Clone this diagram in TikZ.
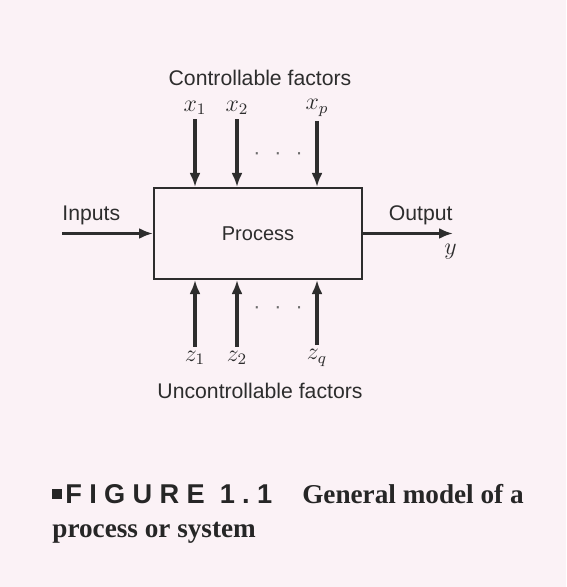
\documentclass[tikz,border=0pt]{standalone}
\usepackage{fontspec}
\setmainfont{Liberation Sans}
\newfontfamily\capserif{Liberation Serif}
\newfontfamily\capsans[LetterSpace=27]{Liberation Sans}
\usepackage{tikz}
\usetikzlibrary{positioning}
\usetikzlibrary{shapes,arrows,arrows.meta}
\definecolor{paper}{RGB}{251,242,246}
\definecolor{ink}{RGB}{45,45,45}
\tikzstyle{block} = [rectangle, draw=ink, line width=1pt, text=ink,
    minimum width=104pt, minimum height=45.5pt, font=\fontsize{10}{12}\selectfont]
\tikzstyle{label} = [text=ink, inner sep=0pt, font=\fontsize{10.6}{12}\selectfont]
\tikzstyle{var} = [text=ink, inner sep=2pt, font=\fontsize{12}{14}\selectfont]
\tikzstyle{caption} = [text=black!85, inner sep=0pt, align=left,
    font=\fontsize{13.6}{17}\selectfont]
\tikzstyle{line} = [draw=ink, line width=1.6pt, -{Latex[length=7pt,width=5.5pt]}]

\begin{document}
\begin{tikzpicture}[x=0.5pt, y=-0.5pt]
        \fill [paper] (0,0) rectangle (566,587);
        \useasboundingbox (0,0) rectangle (566,587);
        \node [block] (proc) at (258,233.5) {Process};
        % controllable factors
        \node [label] (ctrl) at (260,78) {Controllable factors};
        \node [var] (x1) at (195,108) {$x_1$};
        \node [var] (x2) at (237,108) {$x_2$};
        \node [var] (xp) at (317,108) {$x_p$};
        \node [label, text=ink!70] (xdots) at (278,156) {·\hspace{7pt}·\hspace{7pt}·};
        % uncontrollable factors
        \node [var] (z1) at (195,358) {$z_1$};
        \node [var] (z2) at (237,358) {$z_2$};
        \node [var] (zq) at (317,358) {$z_q$};
        \node [label, text=ink!70] (zdots) at (278,310) {·\hspace{7pt}·\hspace{7pt}·};
        \node [label] (unctrl) at (260,391) {Uncontrollable factors};
        % input and output
        \coordinate (in) at (62,233.5);
        \coordinate (out) at (453,233.5);
        \node [label, above right=4pt and 0pt of in] (inputs) {Inputs};
        \node [label, above left=4pt and 0pt of out] (output) {Output};
        \node [var, below left=3pt and -4pt of out] (y) {$y$};
        % edges
        \path [line] (in) -- (proc.west);
        \path [line] (proc.east) -- (out);
        \path [line] (x1) -- (x1 |- proc.north);
        \path [line] (x2) -- (x2 |- proc.north);
        \path [line] (xp) -- (xp |- proc.north);
        \path [line] (z1) -- (z1 |- proc.south);
        \path [line] (z2) -- (z2 |- proc.south);
        \path [line] (zq) -- (zq |- proc.south);
        % caption
        \node [caption, anchor=north west] (cap) at (52,484)
            {\rule[2.5pt]{5pt}{5pt}\hspace{1.5pt}{\capsans\bfseries FIGURE 1.1}\hspace{15pt}{\capserif\bfseries General model of a}\\
             {\capserif\bfseries process or system}};
    \end{tikzpicture}
\end{document}
